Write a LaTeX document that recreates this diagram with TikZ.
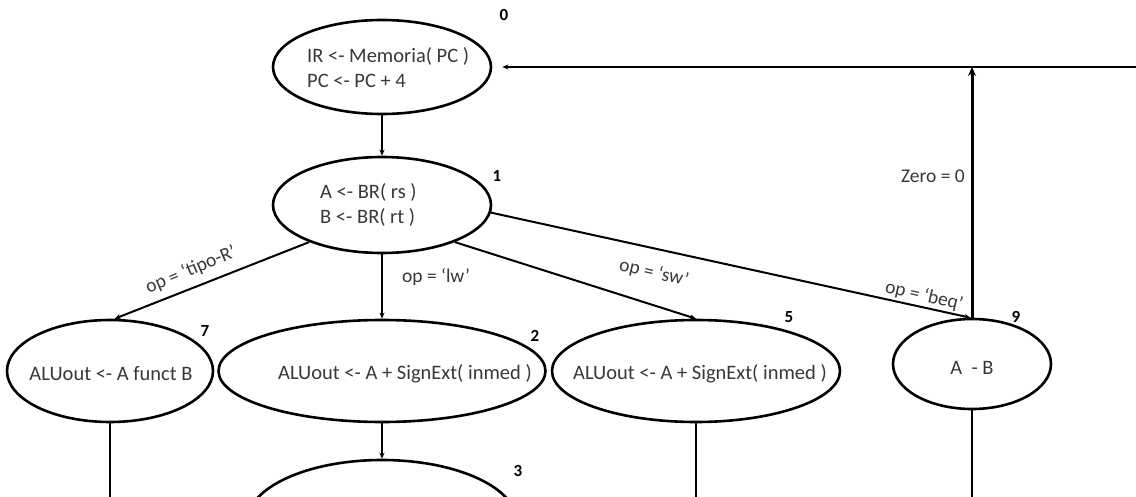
\documentclass[tikz,border=0pt]{standalone}
\usepackage{fontspec}
\setmainfont{Carlito}
\usetikzlibrary{shapes.geometric,arrows.meta}
\begin{document}
\begin{tikzpicture}[x=1pt,y=-1pt,
  st/.style={draw, ellipse, line width=2.6pt, inner sep=0pt},
  txt/.style={font=\fontsize{20.5}{25}\selectfont, text=black!78, inner sep=0pt, align=left},
  num/.style={font=\fontsize{17}{18}\selectfont\bfseries, inner sep=0pt},
  lbl/.style={font=\fontsize{19.5}{20}\selectfont, text=black!78, inner sep=0pt},
  arr/.style={line width=2pt, -{Stealth[length=6pt,width=5pt]}},
  tharr/.style={line width=3pt, -{Stealth[length=9pt,width=8pt]}},
  ln/.style={line width=2pt}
]
\useasboundingbox (0,0) rectangle (1136,497);
\clip (0,0) rectangle (1136,497);

% states
\node[st, minimum width=218pt, minimum height=94pt] (n0) at (382,67) {};
\node[txt, anchor=west] (t0) at (307,68) {IR <- Memoria( PC )\\PC <- PC + 4};
\node[st, minimum width=218pt, minimum height=96pt] (n1) at (382,205) {};
\node[txt, anchor=west] (t1) at (320,205) {A <- BR( rs )\\B <- BR( rt )};
\node[st, minimum width=206pt, minimum height=102pt] (n7) at (110,371) {};
\node[txt] (t7) at (111,374) {ALUout <- A funct B};
\node[st, minimum width=327pt, minimum height=102pt] (n2) at (382,371) {};
\node[txt] (t2) at (405,374) {ALUout <- A + SignExt( inmed )};
\node[st, minimum width=288pt, minimum height=102pt] (n5) at (696,371) {};
\node[txt] (t5) at (700,374) {ALUout <- A + SignExt( inmed )};
\node[st, minimum width=158pt, minimum height=90pt] (n9) at (972,364) {};
\node[txt] (t9) at (972,368) {A\ \ - B};
\node[st, minimum width=270pt, minimum height=124pt] (n3) at (382,522) {};

% state numbers
\node[num] (k0) at (504,15) {0};
\node[num] (k1) at (497,176) {1};
\node[num] (k7) at (205,331) {7};
\node[num] (k2) at (535,336) {2};
\node[num] (k5) at (789,317) {5};
\node[num] (k9) at (1016,317) {9};
\node[num] (k3) at (518,471) {3};

% edge labels
\node[lbl, rotate=23] (lR) at (191,270) {op = ‘tipo-R’};
\node[lbl] (llw) at (436,277) {op = ‘lw’};
\node[lbl, rotate=-13] (lsw) at (654,273) {op = ‘sw’};
\node[lbl, rotate=-13] (lbeq) at (924,296) {op = ‘beq’};
\node[lbl, anchor=east] (lz) at (965,176) {Zero = 0};

% free ends
\coordinate (j) at (972,67);
\coordinate (r) at (1140,67);
\coordinate (b7) at (110,505);
\coordinate (b5) at (696,505);
\coordinate (b9) at (972,505);

% connectors
\draw[arr] (n0) -- (n1);
\draw[arr] (n1) -- (n2);
\draw[arr] (n2) -- (n3);
\draw[arr] (n1.207) -- (n7.85);
\draw[arr] (n1.333) -- (n5.north);
\draw[arr] (n1.356) -- (n9.92);
\draw[tharr] (n9.north) -- (j);
\draw[arr, line width=2.4pt, shorten >=10pt] (r) -- (n0.east);
\draw[ln] (n7.south) -- (b7);
\draw[ln] (n5.south) -- (b5);
\draw[ln] (n9.south) -- (b9);
\end{tikzpicture}
\end{document}
